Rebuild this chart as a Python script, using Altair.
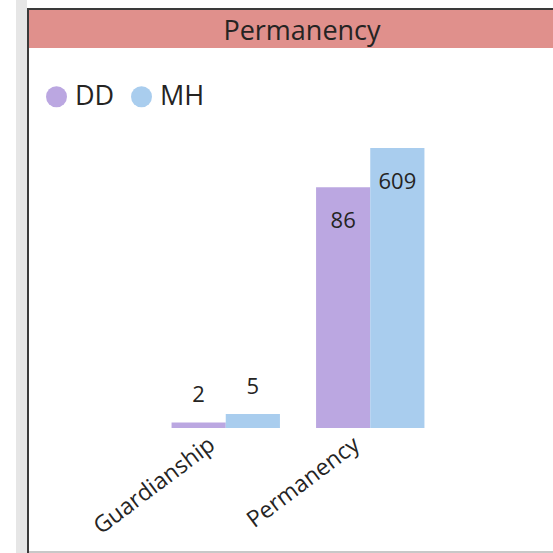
import altair as alt
import pandas as pd

categories = ["Guardianship", "Permanency"]
series = ["DD", "MH"]
dd_values = [2, 86]
mh_values = [5, 609]
series_colors = ["#BBA7E1", "#A9CDEE"]
title_text = "Permanency"

rows = []
for i, c in enumerate(categories):
    rows.append({"category": c, "series": "DD", "value": dd_values[i]})
    rows.append({"category": c, "series": "MH", "value": mh_values[i]})
df = pd.DataFrame(rows)

W, H = 478, 280
L, T = 59, 148
PAD = {"left": L, "top": T, "right": 553 - L - W, "bottom": 553 - T - H}
FONT = "Open Sans"
TXT = "#252423"

x = alt.X(
    "category:N",
    sort=categories,
    scale=alt.Scale(paddingInner=0.25, paddingOuter=0.779),
    axis=alt.Axis(
        title=None, labelAngle=-37, labelFontSize=23, labelFont=FONT,
        labelColor=TXT, domain=False, ticks=False, labelPadding=5,
        labelAlign="right", labelBaseline="top", labelOffset=-20,
    ),
)
xoff = alt.XOffset("series:N", sort=series, scale=alt.Scale(paddingInner=0, paddingOuter=0))
y = alt.Y("value:Q", scale=alt.Scale(domain=[0, 100], clamp=True), axis=None)
color = alt.Color(
    "series:N",
    sort=series,
    scale=alt.Scale(domain=series, range=series_colors),
    legend=alt.Legend(
        title=None, orient="none", legendX=-16, legendY=-65,
        direction="horizontal", symbolType="circle", symbolSize=440,
        labelFontSize=27, labelFont=FONT, labelColor=TXT, labelOffset=5,
        columnPadding=13, padding=0, symbolStrokeWidth=0, symbolOpacity=1,
    ),
)

deco = alt.Data(values=[{"k": 1}])


def box(x1, x2, y1, y2, col):
    return alt.Chart(deco).mark_rect(color=col).encode(
        x=alt.value(x1), x2=alt.value(x2), y=alt.value(y1), y2=alt.value(y2)
    )


strip = box(16 - L, 27 - L, 0 - T, 553 - T, "#e6e6e6")
left_border = box(27 - L, 29 - L, 8 - T, 553 - T, "#3a3a3a")
top_border = box(27 - L, 600 - L, 8 - T, 10 - T, "#3a3a3a")
header = box(29 - L, 600 - L, 10 - T, 48 - T, "#E0908C")
bottom_line = box(29 - L, 600 - L, 551 - T, 553 - T, "#c8c8c8")

title = alt.Chart(deco).mark_text(
    text=title_text, fontSize=27, font=FONT, color=TXT, align="center", baseline="middle"
).encode(x=alt.value(302 - L), y=alt.value(32 - T))

base = alt.Chart(df)
bars = base.mark_bar().encode(x=x, xOffset=xoff, y=y, color=color)

labels_in = base.transform_filter("datum.value >= 20").mark_text(
    fontSize=22, font=FONT, color=TXT, baseline="middle", dy=34
).encode(x=x, xOffset=xoff, y=y, text="value:Q")
labels_out = base.transform_filter("datum.value < 20").mark_text(
    fontSize=22, font=FONT, color=TXT, baseline="middle", dy=-27
).encode(x=x, xOffset=xoff, y=y, text="value:Q")

chart = alt.layer(
    strip, left_border, top_border, header, bottom_line, title, bars, labels_in, labels_out
).properties(
    width=W, height=H, autosize=alt.AutoSizeParams(type="none"), padding=PAD,
    background="white",
).configure_view(stroke=None)

chart.save("out.html", embed_options={"renderer": "svg", "actions": False})
